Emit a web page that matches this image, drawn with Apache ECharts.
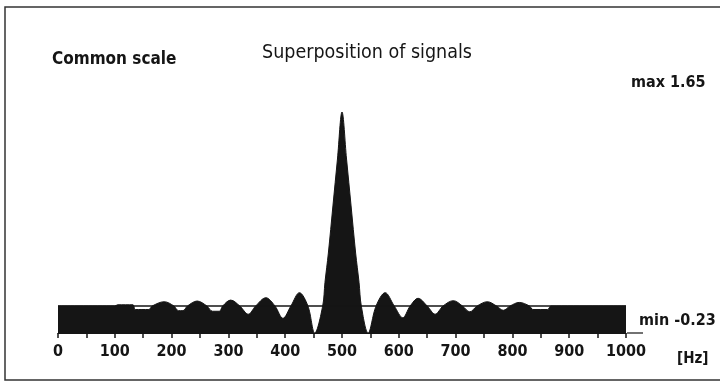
<!DOCTYPE html>
<html>
<head>
<meta charset="utf-8">
<script src="https://cdn.jsdelivr.net/npm/echarts@6/dist/echarts.min.js"></script>
<style>
  html, body { margin: 0; padding: 0; background: #fff; }
  #chart { width: 720px; height: 382px; }
</style>
</head>
<body>
<div id="chart"></div>
<script>
  // frequency axis (Hz) and read-off amplitude of the superposed signal
  var freqHz = [0, 100, 105, 132, 136, 160, 166, 187, 204, 212, 220, 228, 245, 262, 272, 284, 290, 304, 320, 335, 348, 366, 382, 396, 410, 425, 440, 452, 466, 470, 476, 484, 492, 500, 508, 516, 524, 530, 534, 546, 560, 576, 592, 607, 620, 634, 650, 664, 678, 696, 712, 725, 738, 756, 772, 784, 796, 812, 830, 836, 862, 868, 1000]
  var amplitude = [0, 0, 0.01, 0.01, -0.03, -0.03, 0, 0.036, 0, -0.04, -0.04, 0, 0.042, 0, -0.045, -0.045, 0, 0.05, 0, -0.07, 0, 0.07, 0, -0.105, 0, 0.113, 0, -0.23, 0, 0.2, 0.45, 0.85, 1.25, 1.65, 1.25, 0.85, 0.45, 0.2, 0, -0.23, 0, 0.113, 0, -0.10, 0, 0.065, 0, -0.07, 0, 0.045, 0, -0.05, 0, 0.036, 0, -0.037, 0, 0.03, 0, -0.03, -0.03, 0, 0]
  var xTickLabels = [0, 100, 200, 300, 400, 500, 600, 700, 800, 900, 1000]
  var yMin = -0.23
  var yMax = 1.65

  var ink = '#151515'
  var font = "'DejaVu Sans Condensed', 'Liberation Sans Narrow', 'DejaVu Sans', sans-serif"

  var points = freqHz.map(function (f, i) { return [f, amplitude[i]] })

  var chart = echarts.init(document.getElementById('chart'))
  chart.setOption({
    backgroundColor: '#fff',
    animation: false,
    grid: { left: 58, right: 94, top: 112, bottom: 49 },
    xAxis: {
      type: 'value',
      min: 0,
      max: 1000,
      interval: 50,
      axisLine: { show: true, onZero: false, lineStyle: { color: ink, width: 1 } },
      axisTick: { show: true, length: 5, lineStyle: { color: ink, width: 1.5 } },
      splitLine: { show: false },
      axisLabel: {
        margin: 11,
        color: ink,
        fontFamily: font,
        fontWeight: 'bold',
        fontSize: 16,
        formatter: function (v) {
          return xTickLabels.indexOf(v) >= 0 ? String(v) : ''
        }
      }
    },
    yAxis: {
      type: 'value',
      min: yMin,
      max: yMax,
      show: false
    },
    series: [{
      type: 'line',
      data: points,
      smooth: 0.35,
      symbol: 'none',
      lineStyle: { color: ink, width: 1 },
      areaStyle: { color: ink, opacity: 1, origin: 'start' },
      markLine: {
        silent: true,
        symbol: 'none',
        label: { show: false },
        lineStyle: { color: ink, width: 1.5, type: 'solid' },
        data: [{ yAxis: 0 }]
      }
    }],
    graphic: [
      // frame
      { type: 'rect', shape: { x: 5, y: 7, width: 730, height: 373 }, style: { fill: 'none', stroke: '#333', lineWidth: 1.5 } },
      { type: 'text', left: 52, top: 51, style: { text: 'Common scale', fill: ink, font: 'bold 17px ' + font } },
      { type: 'text', left: 262, top: 43, style: { text: 'Superposition of signals', fill: ink, font: '19.5px ' + font } },
      { type: 'text', left: 631, top: 75, style: { text: 'max 1.65', fill: ink, font: 'bold 16px ' + font } },
      { type: 'text', left: 639, top: 313, style: { text: 'min -0.23', fill: ink, font: 'bold 16px ' + font } },
      { type: 'line', shape: { x1: 627, y1: 333, x2: 643, y2: 333 }, style: { stroke: ink, lineWidth: 1.2 } },
      { type: 'text', left: 677, top: 352, style: { text: '[Hz]', fill: ink, font: 'bold 15px ' + font } }
    ]
  })
</script>
</body>
</html>
